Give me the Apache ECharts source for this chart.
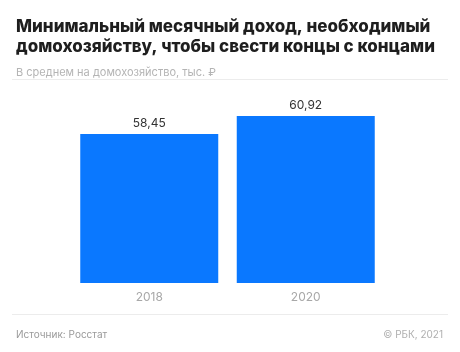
<!DOCTYPE html>
<html>
<head>
<meta charset="utf-8">
<script src="https://cdn.jsdelivr.net/npm/echarts@6/dist/echarts.min.js"></script>
<style>
  html, body { margin: 0; padding: 0; background: #fff; }
  #chart { width: 460px; height: 352px; }
</style>
</head>
<body>
<div id="chart"></div>
<script>
// данные
const years = ['2018', '2020']
const income = [58.45, 60.92]

const chart = echarts.init(document.getElementById('chart'), null, { renderer: 'canvas' })

chart.setOption({
  animation: false,
  backgroundColor: '#fff',
  textStyle: { fontFamily: 'Inter, Roboto, sans-serif' },
  title: [
    {
      text: 'Минимальный месячный доход, необходимый\nдомохозяйству, чтобы свести концы с концами',
      left: 11,
      top: 12,
      textStyle: { fontSize: 17, fontWeight: 800, color: '#1e1e1e', lineHeight: 20, fontFamily: 'Inter, sans-serif' }
    },
    {
      text: 'В среднем на домохозяйство, тыс. ₽',
      left: 11,
      top: 62,
      textStyle: { fontSize: 11, fontWeight: 400, color: '#b4b4b4', fontFamily: 'Inter, sans-serif' }
    },
    {
      text: 'Источник: Росстат',
      left: 11,
      top: 325,
      textStyle: { fontSize: 10, fontWeight: 400, color: '#9a9a9a', fontFamily: 'Inter, sans-serif' }
    },
    {
      text: '© РБК, 2021',
      right: 12,
      top: 325,
      textStyle: { fontSize: 10, fontWeight: 400, color: '#b0b0b0', fontFamily: 'Inter, sans-serif' }
    }
  ],
  graphic: [
    { type: 'rect', shape: { x: 12, y: 79, width: 436, height: 1 }, style: { fill: '#ececec' } },
    { type: 'rect', shape: { x: 12, y: 314, width: 436, height: 1 }, style: { fill: '#ececec' } }
  ],
  grid: { left: 71, right: 76, top: 108, bottom: 69 },
  xAxis: {
    type: 'category',
    data: years,
    axisLine: { show: false },
    axisTick: { show: false },
    axisLabel: { color: '#a8a8a8', fontSize: 12, margin: 8 }
  },
  yAxis: {
    type: 'value',
    min: 38,
    max: 62,
    show: false,
    splitLine: { show: false }
  },
  series: [
    {
      type: 'bar',
      data: income,
      barWidth: 138,
      itemStyle: { color: '#0a78ff' },
      label: {
        show: true,
        position: 'top',
        distance: 4,
        color: '#333',
        fontSize: 12,
        formatter: p => p.value.toFixed(2).replace('.', ',')
      }
    }
  ]
})
</script>
</body>
</html>
